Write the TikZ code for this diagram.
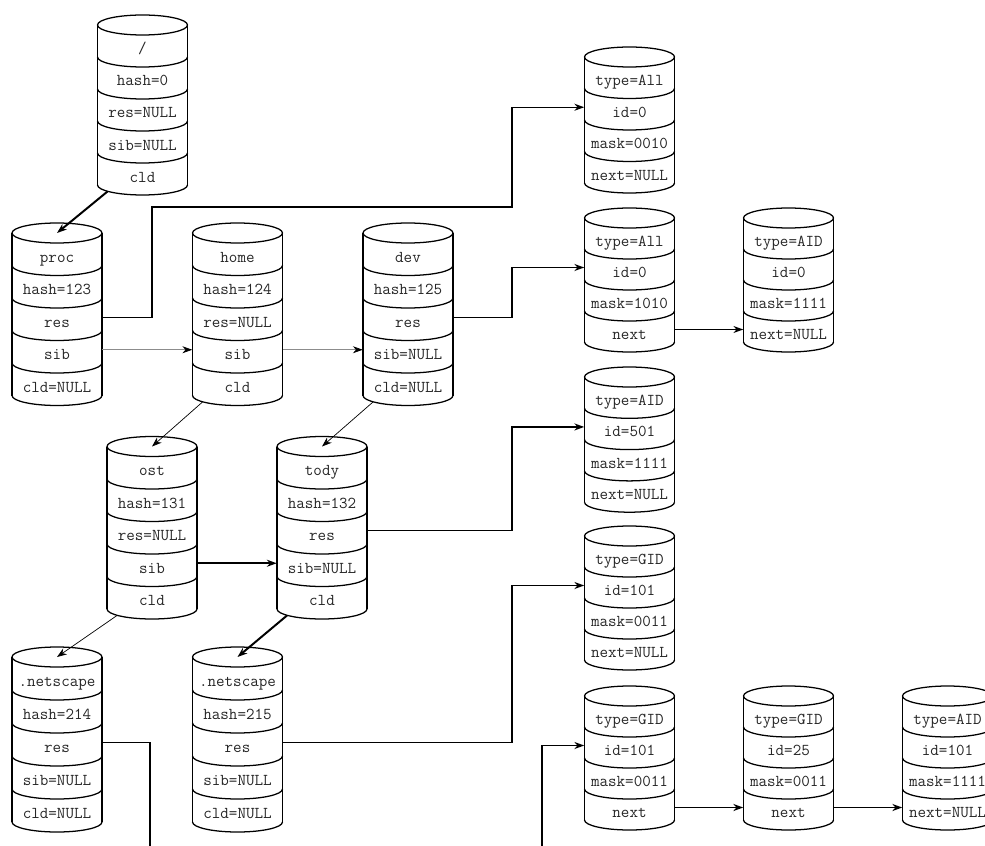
\documentclass[tikz,border=0pt]{standalone}
\usepackage{fontspec}
\usepackage{xcolor}
\usetikzlibrary{arrows.meta}

\newcommand{\Cyl}[5]{%
  \foreach \lab [count=\k] in {#5} {
    \node[seg] (#1-\k) at (#2,#3+\k*#4-0.5*#4+3) {\lab};
    \draw[cyl] (#2-45,#3+\k*#4) .. controls (#2-45,#3+\k*#4+5.5) and (#2-24.9,#3+\k*#4+10) .. (#2,#3+\k*#4+10)
      .. controls (#2+24.9,#3+\k*#4+10) and (#2+45,#3+\k*#4+5.5) .. (#2+45,#3+\k*#4);
    \xdef\ncyl{\k}
  }
  \draw[cyl] (#2,#3) ellipse [x radius=45, y radius=10];
  \draw[cyl] (#2-45,#3) -- (#2-45,#3+\ncyl*#4) (#2+45,#3) -- (#2+45,#3+\ncyl*#4);
  \coordinate (#1-top) at (#2,#3);
  \coordinate (#1-foot) at (#2-35,#3+\ncyl*#4+6.5);
}

\begin{document}
\begin{tikzpicture}[x=0.025cm, y=-0.025cm,
  seg/.style={font=\ttfamily\fontsize{11.8}{14}\selectfont, text=ctext, minimum width=2.25cm, inner sep=0pt, text height=0.6cm, text depth=0.1cm},
  cyl/.style={draw=cline, line width=0.9pt, line join=round},
  tip/.style={-{Stealth[length=7pt, width=5pt, color=cline]}},
  heavy/.style={tip, draw=cline, line width=1.4pt},
  res/.style={tip, draw=cline, line width=1pt},
  wire/.style={draw=cline, line width=1pt},
  mid/.style={tip, draw=cline, line width=1.2pt},
  nxt/.style={tip, draw=cline, line width=0.7pt},
  cldl/.style={tip, draw=cline, line width=0.5pt},
  sibl/.style={tip, draw=csib, line width=0.5pt}]
\definecolor{cline}{rgb}{0.0,0.0,0.0}
\definecolor{ctext}{rgb}{0.15,0.15,0.15}
\definecolor{csib}{rgb}{0.55,0.55,0.55}
\useasboundingbox (0,0) rectangle (985,846);
\clip (0,0) rectangle (985,846);
%
\Cyl{root}{142.5}{25}{32}{/,hash=0,res=NULL,sib=NULL,cld}
\Cyl{proc}{57}{233}{32.5}{proc,hash=123,res,sib,cld=NULL}
\Cyl{home}{237.5}{233}{32.5}{home,hash=124,res=NULL,sib,cld}
\Cyl{dev}{408}{233}{32.5}{dev,hash=125,res,sib=NULL,cld=NULL}
\Cyl{ost}{152}{446.5}{32.5}{ost,hash=131,res=NULL,sib,cld}
\Cyl{tody}{322}{446.5}{32.5}{tody,hash=132,res,sib=NULL,cld}
\Cyl{net1}{57}{657}{33}{.netscape,hash=214,res,sib=NULL,cld=NULL}
\Cyl{net2}{237.5}{657}{33}{.netscape,hash=215,res,sib=NULL,cld=NULL}
\Cyl{R1}{629.5}{57}{31.5}{type=All,id=0,mask=0010,next=NULL}
\Cyl{R2}{629.5}{218}{31}{type=All,id=0,mask=1010,next}
\Cyl{R2b}{788.5}{218}{31}{type=AID,id=0,mask=1111,next=NULL}
\Cyl{R3}{629.5}{377}{31.3}{type=AID,id=501,mask=1111,next=NULL}
\Cyl{R4}{629.5}{536}{31}{type=GID,id=101,mask=0011,next=NULL}
\Cyl{R5}{629.5}{696}{31}{type=GID,id=101,mask=0011,next}
\Cyl{R5b}{788.5}{696}{31}{type=GID,id=25,mask=0011,next}
\Cyl{R5c}{947.5}{696}{31}{type=AID,id=101,mask=1111,next=NULL}
%
\coordinate (kA) at (152,207);
\coordinate (bus) at (512,0);
\coordinate (off1) at (150,846);
\coordinate (off2) at (542,846);
%
\draw[heavy] (root-foot) -- (proc-top);
\draw[res] (proc-3.east) -| (kA) -- (kA -| bus) |- (R1-2.west);
\draw[sibl] (proc-4.east) -- (home-4.west);
\draw[sibl] (home-4.east) -- (dev-4.west);
\draw[cldl] (home-foot) -- (ost-top);
\draw[cldl] (dev-foot) -- (tody-top);
\draw[res] (dev-3.east) -- (dev-3.east -| bus) |- (R2-2.west);
\draw[nxt] (R2-4.east) -- (R2b-4.west);
\draw[mid] (ost-4.east) -- (tody-4.west);
\draw[cldl] (ost-foot) -- (net1-top);
\draw[heavy] (tody-foot) -- (net2-top);
\draw[res] (tody-3.east) -- (tody-3.east -| bus) |- (R3-2.west);
\draw[res] (net2-3.east) -- (net2-3.east -| bus) |- (R4-2.west);
\draw[wire] (net1-3.east) -| (off1);
\draw[res] (off2) |- (R5-2.west);
\draw[heavy] (R5-4.east) -- (R5b-4.west);
\draw[heavy] (R5b-4.east) -- (R5c-4.west);
%
\end{tikzpicture}
\end{document}
